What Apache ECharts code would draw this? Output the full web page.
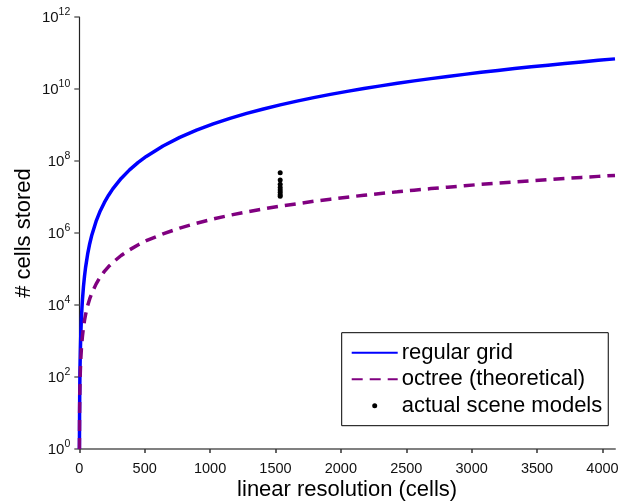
<!DOCTYPE html>
<html>
<head>
<meta charset="utf-8">
<script src="https://cdn.jsdelivr.net/npm/echarts@6/dist/echarts.min.js"></script>
<style>
html,body{margin:0;padding:0;background:#fff;}
#chart{width:620px;height:502px;}
</style>
</head>
<body>
<div id="chart"></div>
<script>
// Linear resolution (cells)
var resolution = [1, 2, 3, 4, 5, 6, 8, 10, 12, 16, 20, 24, 32, 40, 48, 64, 80, 96, 128, 160, 192, 224, 256, 320, 384, 448, 512, 640, 768, 896, 1024, 1152, 1280, 1408, 1536, 1664, 1792, 1920, 2048, 2176, 2304, 2432, 2560, 2688, 2816, 2944, 3072, 3200, 3328, 3456, 3584, 3712, 3840, 3968, 4096];
// # cells stored, regular grid
var regularGrid = [1, 8, 27, 64, 125, 216, 512, 1000, 1730, 4100, 8000, 13800, 32800, 64000, 111000, 262000, 512000, 885000, 2.10e6, 4.10e6, 7.08e6, 1.12e7, 1.68e7, 3.28e7, 5.66e7, 8.99e7, 1.34e8, 2.62e8, 4.53e8, 7.19e8, 1.07e9, 1.53e9, 2.10e9, 2.79e9, 3.62e9, 4.61e9, 5.75e9, 7.08e9, 8.59e9, 1.03e10, 1.22e10, 1.44e10, 1.68e10, 1.94e10, 2.23e10, 2.55e10, 2.90e10, 3.28e10, 3.69e10, 4.13e10, 4.60e10, 5.11e10, 5.66e10, 6.25e10, 6.87e10];
// # cells stored, octree (theoretical)
var octree = [1, 9, 21, 37, 58, 85, 150, 235, 340, 600, 940, 1350, 2400, 3800, 5400, 9600, 15000, 21500, 38000, 60000, 86000, 117000, 152000, 237000, 340000, 465000, 610000, 950000, 1.37e6, 1.87e6, 2.45e6, 3.12e6, 3.85e6, 4.66e6, 5.55e6, 6.5e6, 7.6e6, 8.7e6, 9.9e6, 1.12e7, 1.25e7, 1.39e7, 1.55e7, 1.71e7, 1.87e7, 2.05e7, 2.25e7, 2.42e7, 2.62e7, 2.83e7, 3.05e7, 3.27e7, 3.5e7, 3.74e7, 3.98e7];
// actual scene models
var sceneX = [1536, 1536, 1536, 1536, 1536, 1536, 1536, 1536];
var sceneY = [4.7e7, 2.95e7, 2.25e7, 1.85e7, 1.56e7, 1.35e7, 1.15e7, 1.05e7];
// axis ticks
var xTicks = [0, 500, 1000, 1500, 2000, 2500, 3000, 3500, 4000];
var yTicks = [1, 1e2, 1e4, 1e6, 1e8, 1e10, 1e12];

var seriesNames = ['regular grid', 'octree (theoretical)', 'actual scene models'];

function zip(a, b) { return a.map(function (v, i) { return [v, b[i]]; }); }

var FONT = '"Liberation Sans", Arial, sans-serif';
var chart = echarts.init(document.getElementById('chart'), null, {renderer: 'canvas'});

chart.setOption({
  backgroundColor: '#fff',
  animation: false,
  textStyle: {fontFamily: FONT, color: '#000'},
  grid: {left: 79.3, right: 5, top: 17, bottom: 53, containLabel: false, outerBoundsMode: 'none'},
  legend: {
    orient: 'vertical',
    left: 341.7,
    top: 332.7,
    data: [
      {name: seriesNames[0], itemStyle: {opacity: 0}},
      {name: seriesNames[1], itemStyle: {opacity: 0}},
      {name: seriesNames[2]}
    ],
    itemWidth: 46,
    itemHeight: 5,
    itemGap: 0,
    padding: [6.8, 6, 6.7, 9],
    backgroundColor: '#fff',
    borderColor: '#000',
    borderWidth: 1,
    borderRadius: 0,
    textStyle: {fontFamily: FONT, fontSize: 22, color: '#000', lineHeight: 26.5, padding: [0, 0, 0, -1]},
    selectedMode: false
  },
  xAxis: {
    type: 'value',
    min: 0,
    max: 4096,
    interval: 500,
    name: 'linear resolution (cells)',
    nameLocation: 'middle',
    nameGap: 30,
    nameMoveOverlap: false,
    nameTextStyle: {fontFamily: FONT, fontSize: 22, color: '#000'},
    axisLine: {show: true, onZero: false, lineStyle: {color: '#808080', width: 2}},
    axisTick: {show: true, inside: false, length: 4, lineStyle: {color: '#333', width: 1.5},
      customValues: xTicks},
    axisLabel: {show: true, fontFamily: FONT, fontSize: 14.5, color: '#111', margin: 12,
      customValues: xTicks, hideOverlap: false,
      formatter: function (v) { return String(v); }},
    splitLine: {show: false}
  },
  yAxis: {
    type: 'log',
    logBase: 10,
    min: 1,
    max: 1e12,
    name: '# cells stored',
    nameLocation: 'middle',
    nameGap: 44,
    nameMoveOverlap: false,
    nameTextStyle: {fontFamily: FONT, fontSize: 22, color: '#000'},
    axisLine: {show: true, lineStyle: {color: '#222', width: 1.2}},
    axisTick: {show: true, inside: false, length: 5, lineStyle: {color: '#666', width: 1.5},
      customValues: yTicks},
    axisLabel: {
      show: true,
      margin: 9,
      customValues: yTicks,
      formatter: function (v) {
        var e = Math.round(Math.log10(v));
        return '{b|10}{s|' + e + '}';
      },
      rich: {
        b: {fontFamily: FONT, fontSize: 15, color: '#111', lineHeight: 16, padding: [2, 0, 0, 0]},
        s: {fontFamily: FONT, fontSize: 10.5, color: '#111', lineHeight: 16, padding: [0, 0, 9, 0]}
      }
    },
    splitLine: {show: false}
  },
  series: [
    {
      name: seriesNames[0],
      type: 'line',
      data: zip(resolution, regularGrid),
      symbol: 'none',
      smooth: false,
      lineStyle: {color: '#0000ff', width: 3.5},
      itemStyle: {color: '#0000ff'},
      z: 2
    },
    {
      name: seriesNames[1],
      type: 'line',
      data: zip(resolution, octree),
      symbol: 'none',
      smooth: false,
      lineStyle: {color: '#800080', width: 3.5, type: [11, 7]},
      itemStyle: {color: '#800080'},
      z: 3
    },
    {
      name: seriesNames[2],
      type: 'scatter',
      data: zip(sceneX, sceneY),
      symbol: 'circle',
      symbolSize: 5,
      itemStyle: {color: '#000', opacity: 1},
      z: 4
    }
  ]
});
</script>
</body>
</html>
